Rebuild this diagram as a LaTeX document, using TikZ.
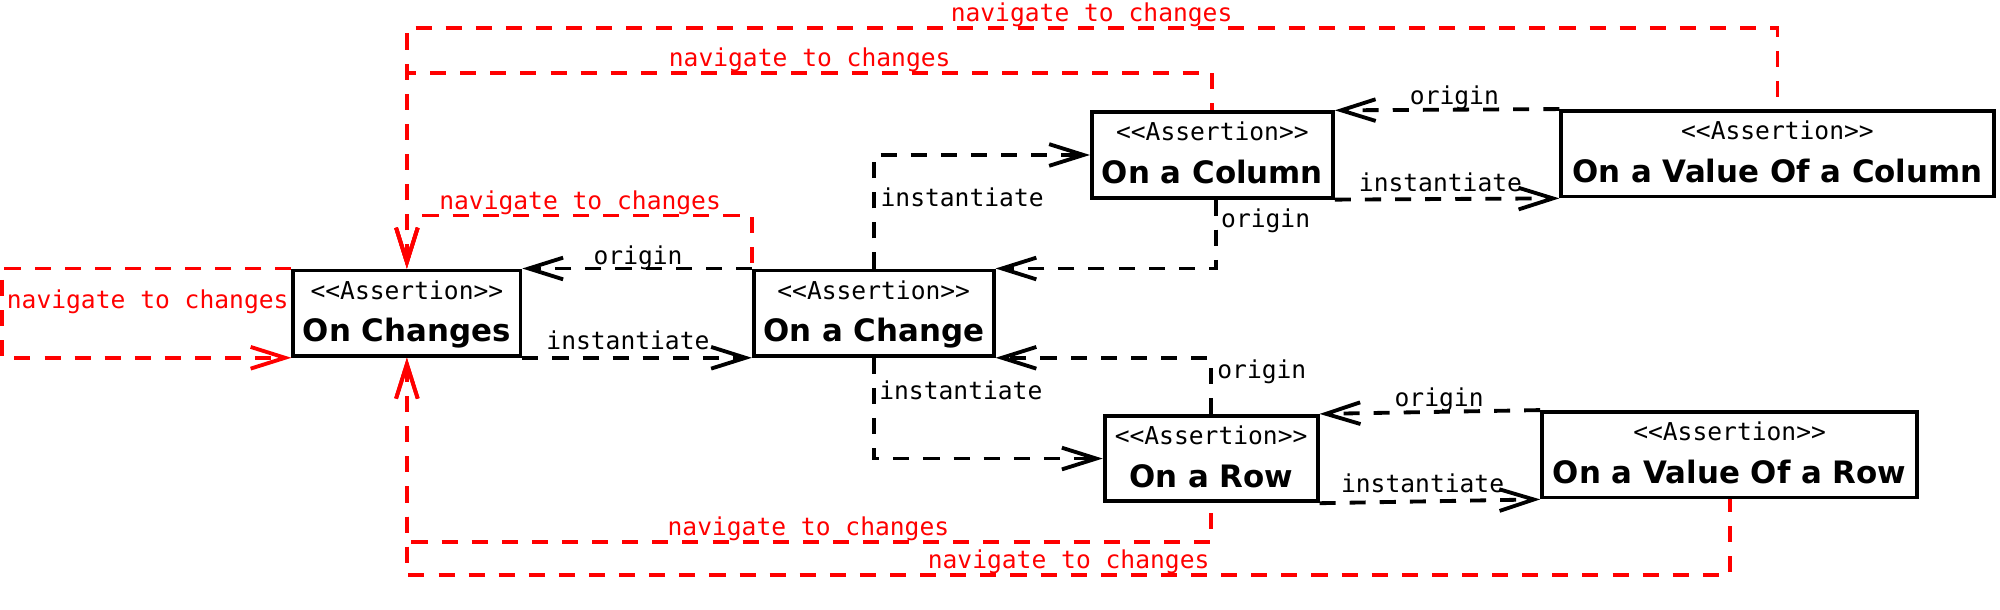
\documentclass[tikz,border=0pt]{standalone}
\usepackage{fontspec}
\setsansfont{DejaVu Sans}
\setmonofont{DejaVu Sans Mono}
\usetikzlibrary{arrows.meta}
\definecolor{navred}{RGB}{255,0,0}
\tikzset{
  box/.style={draw, line width=1.5pt, minimum height=33.5pt, inner sep=0pt},
  stereo/.style={font=\ttfamily\fontsize{9.65}{11}\selectfont, anchor=base, inner sep=0pt},
  ttl/.style={font=\sffamily\bfseries\fontsize{12.1}{14}\selectfont, anchor=base, inner sep=0pt},
  lbl/.style={font=\ttfamily\fontsize{9.65}{11}\selectfont, anchor=base west, inner sep=0pt},
  navlbl/.style={lbl, text=navred},
  dashline/.style={line width=1.5pt, dash pattern=on 6.3pt off 5.5pt},
  conn/.style={dashline, -{Straight Barb[length=13.5pt,width=8.5pt]}},
  nav/.style={dashline, draw=navred, -{Straight Barb[length=13.5pt,width=8.5pt]}},
  navr/.style={dashline, draw=navred, {Straight Barb[length=13.5pt,width=8.5pt]}-},
}
\begin{document}
\begin{tikzpicture}[x=0.5pt,y=-0.5pt]
\useasboundingbox (0,0) rectangle (1568,478);
% boxes
\node[box, minimum width=89pt] (ochs) at (319,245.5) {};
\node[box, minimum width=94pt] (ochg) at (685,245.5) {};
\node[box, minimum width=94.5pt] (ocol) at (950.5,121.5) {};
\node[box, minimum width=169.5pt] (ovc) at (1393.5,120.5) {};
\node[box, minimum width=83.5pt] (orow) at (949.5,359.5) {};
\node[box, minimum width=147pt] (ovr) at (1356,356.5) {};
% box texts
\foreach \n/\t in {ochs/On Changes, ochg/On a Change, ocol/On a Column, ovc/On a Value Of a Column, orow/On a Row, ovr/On a Value Of a Row}{
  \node[stereo] (\n-s) at ([yshift=-12pt]\n.north) {<<Assertion>>};
  \node[ttl] (\n-t) at ([yshift=6.3pt]\n.south) {\t};
}
% level coordinates
\coordinate (selfl) at (1.5,245);
\coordinate (lvB) at (0,169);
\coordinate (lvC) at (0,57);
\coordinate (lvD) at (0,22);
\coordinate (lvE) at (0,425);
\coordinate (lvF) at (0,451);
% black connectors
\draw[conn] (ochg.north west) -- (ochs.north east);
\draw[conn] (ochs.south east) -- (ochg.south west);
\draw[conn] (ochg.north) |- (ocol.west);
\draw[conn] ([xshift=1.5pt]ocol.south) |- (ochg.north east);
\draw[conn] (ocol.south east) -- (ovc.south west);
\draw[conn] (ovc.north west) -- (ocol.north east);
\draw[conn] (ochg.south) |- (orow.west);
\draw[conn] (orow.north) |- (ochg.south east);
\draw[conn] (orow.south east) -- (ovr.south west);
\draw[conn] (ovr.north west) -- (orow.north east);
% red connectors (drawn from the arrow end so shared segments share dashes)
\draw[nav] (ochs.north west) -| (selfl) |- (ochs.south west);
\draw[navr] (ochs.north) -- (lvB -| ochs.north) -| (ochg.north west);
\draw[navr] (ochs.north) -- (lvC -| ochs.north) -| (ocol.north);
\draw[navr] (ochs.north) -- (lvD -| ochs.north) -| (ovc.north);
\draw[navr] (ochs.south) -- (lvE -| ochs.south) -| (orow.south);
\draw[navr] (ochs.south) -- (lvF -| ochs.south) -| (ovr.south);
% labels
\node[lbl] (l1) at (465,207) {origin};
\node[lbl] (l2) at (428,274) {instantiate};
\node[lbl] (l3) at (690,162) {instantiate};
\node[lbl] (l4) at (957,178) {origin};
\node[lbl] (l5) at (1105,82) {origin};
\node[lbl] (l6) at (1065,150) {instantiate};
\node[lbl] (l7) at (954,297) {origin};
\node[lbl] (l8) at (689,313) {instantiate};
\node[lbl] (l9) at (1093,319) {origin};
\node[lbl] (l10) at (1051,386) {instantiate};
\node[navlbl] (n1) at (745,17) {navigate to changes};
\node[navlbl] (n2) at (524,52) {navigate to changes};
\node[navlbl] (n3) at (344,164) {navigate to changes};
\node[navlbl] (n4) at (5,242) {navigate to changes};
\node[navlbl] (n5) at (523,420) {navigate to changes};
\node[navlbl] (n6) at (727,446) {navigate to changes};
\end{tikzpicture}
\end{document}
